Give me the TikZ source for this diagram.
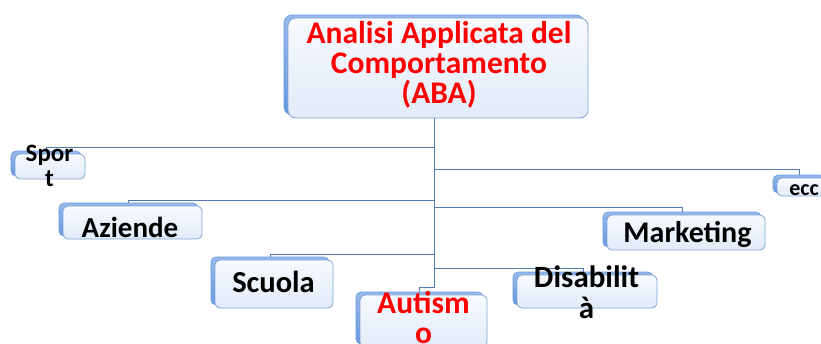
\documentclass[tikz,border=0pt]{standalone}
\usepackage{fontspec}
\setmainfont{Carlito}
\usetikzlibrary{calc}
\pgfdeclarelayer{bg}
\pgfsetlayers{bg,main}
\definecolor{conncol}{RGB}{80,122,176}
\definecolor{shadecol}{RGB}{104,152,222}
\definecolor{shadetop}{RGB}{150,186,235}
\definecolor{frontborder}{RGB}{128,164,214}
\definecolor{fronttop}{RGB}{247,250,254}
\definecolor{frontbot}{RGB}{226,235,248}
\definecolor{titlered}{RGB}{255,0,0}
\tikzset{
  backbox/.style={draw=shadecol, line width=0.6pt, rounded corners=5pt, top color=shadetop, bottom color=shadecol, inner sep=0pt, outer sep=0pt},
  frontbox/.style={draw=frontborder, line width=0.8pt, rounded corners=5pt, top color=fronttop, bottom color=frontbot, inner sep=0pt, outer sep=0pt},
  conn/.style={draw=conncol, line width=0.8pt},
  lbl/.style={inner sep=0pt, outer sep=0pt, align=center, anchor=base, font=\bfseries},
}
\begin{document}
\begin{tikzpicture}[x=1pt,y=-1pt]
\useasboundingbox (0,0) rectangle (821,343);
\clip (0,0) rectangle (821,343);
% main
\node[backbox, rounded corners=8pt, minimum width=300pt, minimum height=100pt] (mainB) at (434,65) {};
\node[frontbox, rounded corners=8pt, minimum width=300pt, minimum height=100pt] (mainF) at (438,68) {};
\node[lbl, text=titlered, font=\bfseries\fontsize{31.5}{30}\selectfont] (mainT) at (439,103) {Analisi Applicata del\\Comportamento\\(ABA)};
% Sport
\node[backbox, minimum width=70pt, minimum height=25pt] (sportB) at (46,163.5) {};
\node[frontbox, minimum width=70pt, minimum height=25pt] (sportF) at (50,166.5) {};
\node[lbl, font=\bfseries\fontsize{25}{25}\selectfont] (sportT) at (49.5,186) {Spor\\t};
% ecc
\node[backbox, minimum width=52pt, minimum height=18pt] (eccB) at (799,184) {};
\node[frontbox, minimum width=52pt, minimum height=18pt] (eccF) at (803,187) {};
\node[lbl, font=\bfseries\fontsize{22}{22}\selectfont] (eccT) at (804,195) {ecc};
% Aziende
\node[backbox, minimum width=139pt, minimum height=33pt] (azB) at (128.5,219.5) {};
\node[frontbox, minimum width=139pt, minimum height=33pt] (azF) at (132.5,222.5) {};
\node[lbl, font=\bfseries\fontsize{29}{29}\selectfont] (azT) at (130,237) {Aziende};
% Marketing
\node[backbox, minimum width=158pt, minimum height=35pt] (mkB) at (682,229.5) {};
\node[frontbox, minimum width=158pt, minimum height=35pt] (mkF) at (686,232.5) {};
\node[lbl, font=\bfseries\fontsize{30}{30}\selectfont] (mkT) at (687.5,242) {Marketing};
% Scuola
\node[backbox, minimum width=118pt, minimum height=48pt] (scB) at (270,281) {};
\node[frontbox, minimum width=118pt, minimum height=48pt] (scF) at (274,284) {};
\node[lbl, font=\bfseries\fontsize{30.5}{30}\selectfont] (scT) at (273.5,292) {Scuola};
% Disabilita
\node[backbox, minimum width=140pt, minimum height=33pt] (diB) at (583,288.5) {};
\node[frontbox, minimum width=140pt, minimum height=33pt] (diF) at (587,291.5) {};
\node[lbl, font=\bfseries\fontsize{31}{31}\selectfont] (diT) at (586.5,318) {Disabilit\\à};
% Autismo
\node[backbox, minimum width=127pt, minimum height=52pt] (auB) at (419.5,318) {};
\node[frontbox, minimum width=127pt, minimum height=52pt] (auF) at (423.5,321) {};
\node[lbl, text=titlered, font=\bfseries\fontsize{31.5}{30}\selectfont] (auT) at (423.5,343) {Autism\\o};
% connectors
\begin{pgfonlayer}{bg}
\draw[conn] (mainB.south) |- ([yshift=4pt]sportB.north) -- (sportB.north);
\draw[conn] (mainB.south) |- ([yshift=6pt]eccB.north) -- (eccB.north);
\draw[conn] (mainB.south) |- ([yshift=3pt]azB.north) -- (azB.north);
\draw[conn] (mainB.south) |- ([yshift=5pt]mkB.north) -- (mkB.north);
\draw[conn] (mainB.south) |- ([yshift=3pt]scB.north) -- (scB.north);
\draw[conn] (mainB.south) |- ([yshift=4pt]diB.north) -- (diB.north);
\draw[conn] (mainB.south) |- ([yshift=5pt]auB.north) -- (auB.north);
\end{pgfonlayer}
\end{tikzpicture}
\end{document}
